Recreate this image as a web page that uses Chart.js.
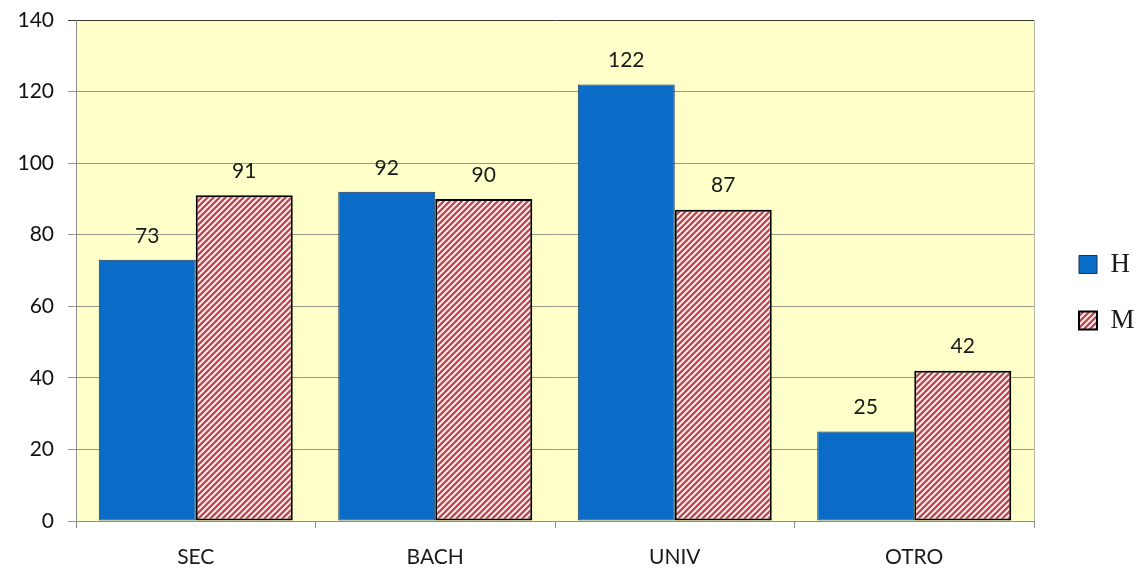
<!DOCTYPE html>
<html>
<head>
<meta charset="utf-8">
<script src="https://cdn.jsdelivr.net/npm/chart.js@4.4.1/dist/chart.umd.min.js"></script>
<style>
  html, body { margin: 0; padding: 0; background: #fff; }
  #wrap { width: 1145px; height: 571px; }
</style>
</head>
<body>
<div id="wrap"><canvas id="chart" width="1145" height="571"></canvas></div>
<script>
// niveles de estudio y totales por sexo
const categorias = ['SEC', 'BACH', 'UNIV', 'OTRO'];
const hombres = [73, 92, 122, 25];
const mujeres = [91, 90, 87, 42];
const yTicks = [0, 20, 40, 60, 80, 100, 120, 140];

// relleno rayado rojo/blanco para la serie M
function makeHatch() {
  const size = 6;
  const c = document.createElement('canvas');
  c.width = size; c.height = size;
  const g = c.getContext('2d');
  g.fillStyle = '#C24A52';
  g.fillRect(0, 0, size, size);
  g.strokeStyle = '#ffffff';
  g.lineWidth = 1.7;
  g.beginPath();
  g.moveTo(-1, size + 1); g.lineTo(size + 1, -1);
  g.moveTo(-size / 2 - 1, size / 2 + 1); g.lineTo(size / 2 + 1, -size / 2 - 1);
  g.moveTo(size / 2 - 1, size * 1.5 + 1); g.lineTo(size * 1.5 + 1, size / 2 - 1);
  g.stroke();
  return document.getElementById('chart').getContext('2d').createPattern(c, 'repeat');
}
const hatch = makeHatch();

// fondo amarillo del área de trazado
const plotBg = {
  id: 'plotBg',
  beforeDraw(chart) {
    const { ctx, chartArea: a } = chart;
    ctx.save();
    ctx.fillStyle = '#FFFFC9';
    ctx.fillRect(a.left, a.top, a.right - a.left, a.bottom - a.top);
    ctx.restore();
  },
  afterDraw(chart) {
    const { ctx, chartArea: a } = chart;
    ctx.save();
    ctx.strokeStyle = '#B8B8A8';
    ctx.lineWidth = 1;
    ctx.beginPath();
    ctx.moveTo(a.right + 0.5, a.top);
    ctx.lineTo(a.right + 0.5, a.bottom);
    ctx.stroke();
    ctx.restore();
  }
};

// ancho fijo de la leyenda y un poco más de separación del área de trazado
const LEGEND_W = 111;
const legendFix = {
  id: 'legendFix',
  beforeLayout(chart) {
    const lg = chart.legend;
    if (lg && !lg._fixed) {
      const fit = lg.fit;
      lg.fit = function () { fit.call(this); this.width = LEGEND_W; };
      lg._fixed = true;
    }
  },
  afterLayout(chart) {
    const lg = chart.legend;
    if (lg) {
      lg.left += 16; lg.right += 16;
      lg.top -= 3; lg.bottom -= 3;
    }
  }
};

// valores encima de cada barra
const valueLabels = {
  id: 'valueLabels',
  afterDatasetsDraw(chart) {
    const { ctx } = chart;
    ctx.save();
    ctx.font = '21px Lato';
    ctx.fillStyle = '#1a1a1a';
    ctx.textAlign = 'center';
    ctx.textBaseline = 'middle';
    chart.data.datasets.forEach((ds, i) => {
      chart.getDatasetMeta(i).data.forEach((bar, j) => {
        ctx.fillText(ds.data[j], bar.x, bar.y - 24);
      });
    });
    ctx.restore();
  }
};

new Chart(document.getElementById('chart'), {
  type: 'bar',
  data: {
    labels: categorias,
    datasets: [
      {
        label: 'H',
        data: hombres,
        backgroundColor: '#0A6CC6',
        borderColor: '#15305A',
        borderWidth: 1,
        borderSkipped: false
      },
      {
        label: 'M',
        data: mujeres,
        backgroundColor: hatch,
        borderColor: '#000000',
        borderWidth: 2,
        borderSkipped: false
      }
    ]
  },
  options: {
    responsive: false,
    animation: false,
    layout: { padding: { top: 20, left: 0, right: 0, bottom: 0 } },
    datasets: { bar: { categoryPercentage: 0.81, barPercentage: 1 } },
    scales: {
      x: {
        offset: true,
        grid: { offset: true, drawOnChartArea: false, color: '#8C8C8C', tickLength: 7 },
        border: { color: '#8C8C8C' },
        ticks: { font: { family: 'Lato', size: 21 }, color: '#1a1a1a', padding: 17 },
        afterFit(s) { s.height = 50; }
      },
      y: {
        min: 0, max: 140,
        afterBuildTicks(s) { s.ticks = yTicks.map(v => ({ value: v })); },
        grid: {
          color: c => (c.tick && c.tick.value === 140 ? '#3A3A30' : '#9A9A88'),
          tickLength: 8
        },
        border: { color: '#8C8C8C' },
        ticks: { font: { family: 'Lato', size: 21 }, color: '#111111', padding: 14 },
        afterFit(s) { s.width = 76; s.paddingTop = 0; s.paddingBottom = 0; }
      }
    },
    plugins: {
      legend: {
        position: 'right',
        labels: {
          font: { family: 'Liberation Serif', size: 27 },
          color: '#1a1a1a',
          boxWidth: 18,
          boxHeight: 18,
          padding: 29
        }
      },
      tooltip: { enabled: false }
    }
  },
  plugins: [plotBg, legendFix, valueLabels]
});
</script>
</body>
</html>
